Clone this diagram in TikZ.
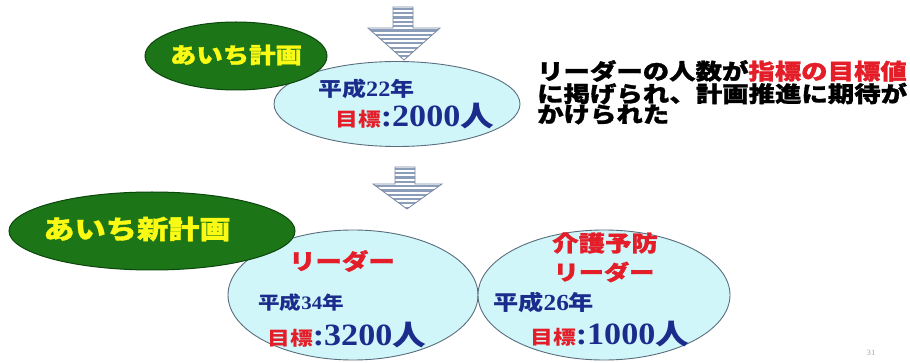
\documentclass[tikz,border=0pt]{standalone}
\usepackage{fontspec}
\setmainfont{Liberation Serif}
\newfontfamily\jp[FakeStretch=1.2]{Noto Sans CJK JP}
\newfontfamily\jph[FakeStretch=1.2, BoldFeatures={FakeBold=1.3}]{Noto Sans CJK JP}
\newfontfamily\numf[FakeStretch=1.1]{Liberation Serif}
\usetikzlibrary{shapes.geometric}
\definecolor{plangreen}{RGB}{28,118,24}
\definecolor{plandark}{RGB}{12,70,12}
\definecolor{planyellow}{RGB}{250,250,20}
\definecolor{goalfill}{RGB}{208,246,250}
\definecolor{goaledge}{RGB}{90,110,125}
\definecolor{navy}{RGB}{28,44,140}
\definecolor{goalred}{RGB}{228,30,40}
\definecolor{stripecol}{RGB}{140,157,186}
\definecolor{arrowedge}{RGB}{120,136,165}
\newcommand\jfs[1]{\fontsize{#1}{#1}\selectfont}
\newcommand\goalline[2]{{\color{goalred}\jp\bfseries\jfs{19}目標}{\numf\bfseries\jfs{31}:#1}{\jp\bfseries\jfs{#2}人}}
\tikzset{
  plan/.style={ellipse, draw=plandark, fill=plangreen, line width=1pt, inner sep=0},
  goal/.style={ellipse, draw=goaledge, fill=goalfill, line width=0.9pt, inner sep=0},
  plantext/.style={text=planyellow, inner sep=0},
  navytext/.style={text=navy, inner sep=0},
  redtext/.style={text=goalred, inner sep=0, font=\jp\bfseries},
  stripe/.style={draw=stripecol, line width=2.2pt},
  arrowline/.style={draw=arrowedge, line width=0.8pt, line join=miter},
}
\begin{document}
\begin{tikzpicture}[x=1pt,y=-1pt]
\useasboundingbox[fill=white] (0,0) rectangle (910,363);

% arrow 1
\begin{scope}
\clip (393,7) -- (413,7) -- (413,28) -- (440,28) -- (404,60) -- (368,28) -- (393,28) -- cycle;
\fill[white] (360,0) rectangle (450,65);
\foreach \y in {9,13.3,...,62} \draw[stripe] (360,\y) -- (450,\y);
\end{scope}
\draw[arrowline] (393,7) -- (413,7) -- (413,28) -- (440,28) -- (404,60) -- (368,28) -- (393,28) -- cycle;

% arrow 2
\begin{scope}
\clip (395,167) -- (415,167) -- (415,184) -- (442,184) -- (407,209) -- (373,184) -- (395,184) -- cycle;
\fill[white] (360,160) rectangle (450,212);
\foreach \y in {169,173.3,...,211} \draw[stripe] (360,\y) -- (450,\y);
\end{scope}
\draw[arrowline] (395,167) -- (415,167) -- (415,184) -- (442,184) -- (407,209) -- (373,184) -- (395,184) -- cycle;

% top group
\node[goal, minimum width=246pt, minimum height=85pt] (g1) at (397,104) {};
\node[plan, minimum width=182pt, minimum height=68pt] (p1) at (236,56) {};
\node[plantext, font=\jph\bfseries\jfs{22}] (p1t) at (236,55) {あいち計画};
\node[navytext, anchor=west] (g1y) at (318,89) {\jp\bfseries\jfs{20}平成{\numf\bfseries\jfs{22}22}年};
\node[navytext, anchor=west] (g1n) at (335,116) {\goalline{2000}{28}};

\node[anchor=north west, inner sep=0, align=left, font=\jph\bfseries\fontsize{22}{20.5}\selectfont] (note) at (537,60)
  {リーダーの人数が{\color{goalred}指標の目標値}\\に掲げられ、計画推進に期待が\\かけられた};

% bottom group
\node[goal, minimum width=250pt, minimum height=130pt] (g2) at (353,295) {};
\node[goal, minimum width=252pt, minimum height=130pt] (g3) at (604,295) {};
\node[plan, minimum width=286pt, minimum height=78pt] (p2) at (152,231) {};
\node[plantext, font=\jph\bfseries\jfs{26}] (p2t) at (137,229) {あいち新計画};

\node[redtext, font=\jph\bfseries\jfs{22}] (g2t) at (342,261) {リーダー};
\node[navytext, anchor=west] (g2y) at (258,303) {\jp\bfseries\jfs{18}平成{\numf\bfseries\jfs{19}34}年};
\node[navytext, anchor=west] (g2n) at (267,335) {\goalline{3200}{28}};

\node[redtext, font=\jph\bfseries\jfs{22}] (g3a) at (605,243) {介護予防};
\node[redtext, font=\jph\bfseries\jfs{21}] (g3b) at (604,272) {リーダー};
\node[navytext, anchor=west] (g3y) at (493,302) {\jp\bfseries\jfs{21}平成{\numf\bfseries\jfs{23}26}年};
\node[navytext, anchor=west] (g3n) at (530,334) {\goalline{1000}{28}};

\node[text=gray!70, inner sep=0, font=\numf\fontsize{8}{8}\selectfont] (pg) at (871,353) {31};
\end{tikzpicture}
\end{document}
